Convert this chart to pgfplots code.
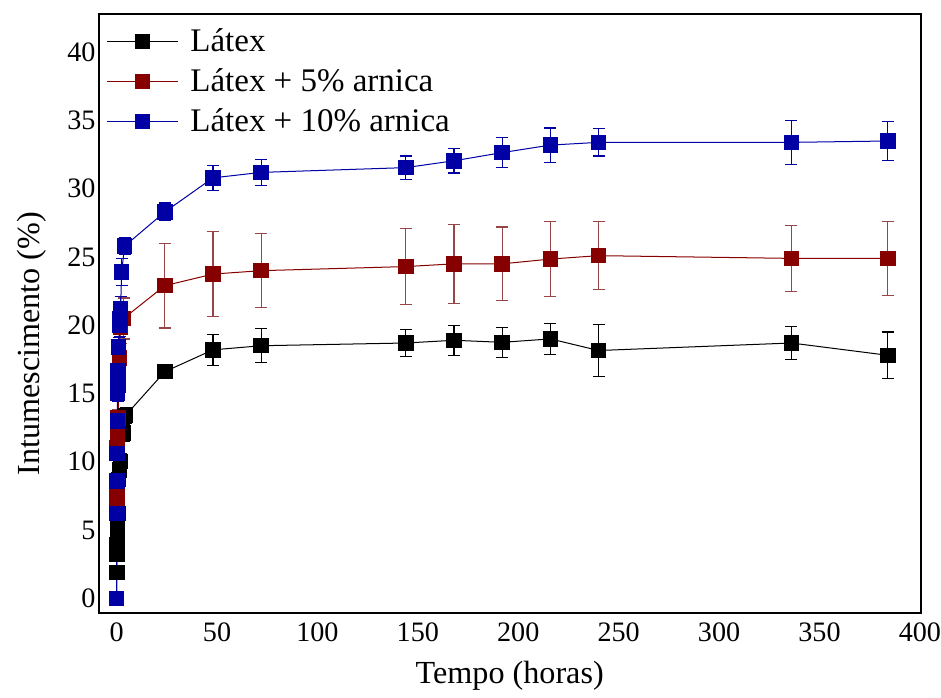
\documentclass[border=0pt]{standalone}
\usepackage{fontspec}
\setmainfont{Liberation Serif}
\usepackage{pgfplots}
\pgfplotsset{compat=1.18}
\usepackage{pgfplotstable}
\definecolor{cblack}{RGB}{0,0,0}
\definecolor{cred}{RGB}{135,0,0}
\definecolor{cblue}{RGB}{0,0,165}
\definecolor{credbar}{RGB}{150,70,70}

\pgfplotstableread{
t y e
0 0 0
0.083 1.9 0.3
0.167 3.2 0.3
0.25 3.9 0.3
0.333 4.6 0.3
0.5 5.4 0.4
0.75 6.2 0.4
1 8.7 0.5
1.5 9.4 0.5
2 10.0 0.6
3.5 12.1 0.6
4.5 13.4 0.6
24 16.6 0.3
48 18.2 1.15
72 18.5 1.25
144 18.7 1.0
168 18.9 1.1
192 18.75 1.1
216 19.0 1.15
240 18.15 1.9
336 18.7 1.2
384 17.8 1.7
}\dlatex

\pgfplotstableread{
t y e
0 0 0
0.083 6.9 0.4
0.167 7.6 0.4
0.25 11.0 0.5
0.333 11.5 0.5
0.5 12.5 0.5
0.75 13.2 0.6
1 15.7 0.6
1.5 17.6 0.8
2 19.85 1.2
3.5 20.5 1.5
24 22.9 3.1
48 23.75 3.1
72 24.0 2.7
144 24.3 2.8
168 24.5 2.9
192 24.5 2.7
216 24.85 2.75
240 25.1 2.5
336 24.9 2.4
384 24.9 2.7
}\dcinco

\pgfplotstableread{
t y e
0 0 0
0.083 6.2 0.4
0.167 8.6 0.4
0.25 10.6 0.5
0.333 13.0 0.5
0.5 15.0 0.6
0.667 15.6 0.6
0.75 16.7 0.6
1 18.4 0.7
1.5 20.0 0.8
1.75 20.5 0.8
2 21.2 0.9
2.5 23.9 1.0
4 25.8 0.6
24 28.3 0.65
48 30.8 0.9
72 31.2 0.95
144 31.55 0.85
168 32.05 0.9
192 32.65 1.1
216 33.2 1.25
240 33.4 1.0
336 33.4 1.6
384 33.5 1.4
}\ddez

\begin{document}
\begin{tikzpicture}
\begin{axis}[
  scale only axis,
  width=409pt, height=298pt,
  xmin=-9, xmax=400.5,
  ymin=-1.1, ymax=42.8,
  xtick={0,50,...,400},
  ytick={0,5,...,40},
  major tick length=0pt,
  axis line style={line width=1pt},
  /pgf/number format/assume math mode=true,
  tick label style={font=\fontsize{14}{17}\selectfont},
  xticklabel style={yshift=-1pt, inner xsep=0pt},
  yticklabel style={xshift=2pt},
  label style={font=\fontsize{16}{19}\selectfont},
  xlabel={Tempo (horas)},
  ylabel={Intumescimento (\%)},
  xlabel style={yshift=-3pt},
  ylabel style={at={(ticklabel cs:0.45)}, yshift=3.5pt},
  legend style={draw=none, fill=none, at={(0,1)}, anchor=north west,
    font=\fontsize{16.4}{19}\selectfont, row sep=3pt, xshift=1pt, yshift=-3pt},
  legend cell align=left,
  legend image code/.code={\draw[mark repeat=2,mark phase=2,#1] plot coordinates {(0pt,0pt) (17.5pt,0pt) (35pt,0pt)}; \path (39pt,0pt);},
]
\addplot[cblack, line width=0.5pt, mark=square*, mark size=3.6pt, mark options={fill=cblack, draw=cblack},
  error bars/.cd, y dir=both, y explicit,
  error bar style={line width=0.6pt, cblack},
  error mark options={rotate=90, mark size=3pt, line width=0.6pt, cblack}]
  table[x=t, y=y, y error=e] {\dlatex};
\addlegendentry{Látex}
\addplot[cred, line width=0.5pt, mark=square*, mark size=3.6pt, mark options={fill=cred, draw=cred},
  error bars/.cd, y dir=both, y explicit,
  error bar style={line width=0.6pt, credbar},
  error mark options={rotate=90, mark size=3pt, line width=0.6pt, credbar}]
  table[x=t, y=y, y error=e] {\dcinco};
\addlegendentry{Látex + 5\% arnica}
\addplot[cblue, line width=0.5pt, mark=square*, mark size=3.6pt, mark options={fill=cblue, draw=cblue},
  error bars/.cd, y dir=both, y explicit,
  error bar style={line width=0.6pt, cblue},
  error mark options={rotate=90, mark size=3pt, line width=0.6pt, cblue}]
  table[x=t, y=y, y error=e] {\ddez};
\addlegendentry{Látex + 10\% arnica}
\end{axis}
\path (current axis.north west) ++(-49pt,7pt) coordinate (tl);
\path (tl) -- (tl);
\end{tikzpicture}
\end{document}
